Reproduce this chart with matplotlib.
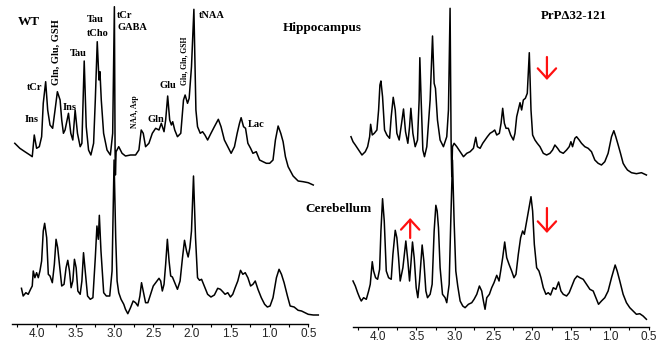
import numpy as np
import matplotlib
matplotlib.use("Agg")
import matplotlib.pyplot as plt
from matplotlib.ticker import MultipleLocator

# ===============================
# Spectra (ppm, intensity in arbitrary units)
# ===============================
wt_hip_ppm = [4.284, 4.219, 4.154, 4.089, 4.059, 4.033, 4.003, 3.968, 3.938, 3.917,
              3.886, 3.860, 3.830, 3.796, 3.765, 3.735, 3.700, 3.679, 3.657, 3.636,
              3.592, 3.562, 3.536, 3.506, 3.476, 3.441, 3.419, 3.389, 3.363, 3.333,
              3.303, 3.268, 3.246, 3.221, 3.199, 3.186, 3.169, 3.139, 3.095, 3.052,
              3.022, 3.000, 2.991, 2.987, 2.978, 2.944, 2.901, 2.857, 2.792, 2.727,
              2.684, 2.654, 2.628, 2.598, 2.555, 2.511, 2.468, 2.425, 2.395, 2.360,
              2.339, 2.313, 2.287, 2.265, 2.248, 2.222, 2.187, 2.144, 2.109, 2.088,
              2.057, 2.036, 2.006, 1.975, 1.949, 1.928, 1.893, 1.863, 1.833, 1.798,
              1.755, 1.711, 1.660, 1.625, 1.582, 1.538, 1.495, 1.452, 1.417, 1.387,
              1.366, 1.335, 1.309, 1.279, 1.244, 1.214, 1.171, 1.128, 1.084, 1.041,
              0.998, 0.955, 0.924, 0.889, 0.855, 0.825, 0.795, 0.760, 0.696, 0.631,
              0.566, 0.501, 0.436]
wt_hip_int = [41.7, 36.7, 33.3, 30, 28.3, 50, 36.7, 38.3, 48.3, 81.7,
              103.3, 75, 60, 56.7, 75, 93.3, 85, 65, 51.7, 55,
              71.7, 51.7, 45, 75, 51.7, 38.3, 41.7, 124, 58.3, 35,
              30, 41.7, 85, 143.3, 105, 113.3, 85, 51.7, 35, 30,
              51.7, 178.3, 35, 10, 33.3, 38.3, 31.7, 29, 30, 30,
              35, 55, 51.7, 38.3, 41.7, 51.7, 56.7, 55, 61.7, 53.3,
              65, 89, 65, 60, 63.3, 55, 48.3, 51.7, 85, 90,
              81.7, 86.7, 118.3, 175.7, 75, 58.3, 51.7, 53.3, 50, 45,
              51.7, 58.3, 65.7, 58.3, 45, 38.3, 31.7, 38.3, 51.7, 61.7,
              67.3, 58.3, 56.7, 41.7, 36.7, 31.7, 33.3, 25, 23.3, 21.7,
              21.7, 25, 45, 59, 51.7, 43.3, 28.3, 18.3, 9, 4,
              3.3, 2.3, 0]

wt_cer_ppm = [4.198, 4.176, 4.141, 4.111, 4.081, 4.059, 4.046, 4.025, 4.003, 3.981,
              3.960, 3.938, 3.917, 3.899, 3.873, 3.852, 3.830, 3.800, 3.774, 3.752,
              3.731, 3.709, 3.679, 3.649, 3.623, 3.601, 3.579, 3.558, 3.536, 3.515,
              3.493, 3.471, 3.441, 3.419, 3.398, 3.372, 3.346, 3.311, 3.277, 3.246,
              3.225, 3.207, 3.194, 3.173, 3.138, 3.104, 3.060, 3.030, 3.004, 2.983,
              2.965, 2.944, 2.914, 2.879, 2.857, 2.827, 2.792, 2.758, 2.727, 2.697,
              2.671, 2.650, 2.628, 2.598, 2.568, 2.533, 2.499, 2.468, 2.425, 2.403,
              2.382, 2.360, 2.339, 2.317, 2.295, 2.274, 2.252, 2.222, 2.187, 2.153,
              2.122, 2.096, 2.070, 2.049, 2.027, 2.006, 1.980, 1.954, 1.928, 1.902,
              1.876, 1.841, 1.798, 1.755, 1.711, 1.668, 1.633, 1.603, 1.573, 1.538,
              1.504, 1.474, 1.443, 1.409, 1.374, 1.344, 1.313, 1.279, 1.244, 1.214,
              1.184, 1.149, 1.106, 1.063, 1.028, 0.993, 0.955, 0.911, 0.877, 0.846,
              0.812, 0.769, 0.734, 0.683, 0.631, 0.587, 0.544, 0.501, 0.436, 0.371]
wt_cer_int = [26.7, 19, 22.3, 20.7, 25.7, 29, 44, 37.3, 42.3, 37.3,
              44, 54, 84, 91.7, 77.3, 40.7, 39, 32.3, 50.7, 75.7,
              67.3, 50.7, 29, 30.7, 47.3, 54.7, 44, 27.3, 34, 55.7,
              47.3, 24, 20.7, 34, 62.3, 40.7, 19, 15.7, 17.3, 57.3,
              89, 75.7, 99.7, 64, 22.3, 19, 19, 44, 155, 77.3,
              34, 22.3, 15.7, 10.7, 5.7, 1.3, 7.3, 14, 12.3, 9,
              19, 32.3, 24, 12.3, 12.3, 20.7, 29, 32.3, 36.7, 34,
              24, 30.7, 50.7, 75.7, 54, 39, 38, 32.3, 25.7, 34,
              57.3, 74.7, 64, 58, 67.3, 84, 139, 77.3, 37.3, 34.7,
              35.7, 29, 20.7, 18, 20, 26.7, 25.7, 23.3, 20.7, 22.3,
              18, 20.7, 27.3, 34, 44.7, 40.7, 42.3, 37.3, 29, 30.7,
              34, 25.7, 17.3, 10.7, 8, 9, 17.3, 37.3, 45.7, 40.7,
              32.3, 19, 9, 8, 4.7, 4, 2.3, 0.7, 0, 0]

prp_hip_ppm = [4.346, 4.320, 4.290, 4.247, 4.204, 4.161, 4.131, 4.105, 4.092, 4.071,
               4.045, 4.011, 3.989, 3.972, 3.959, 3.938, 3.912, 3.882, 3.847, 3.826,
               3.800, 3.774, 3.753, 3.723, 3.692, 3.667, 3.641, 3.611, 3.589, 3.572,
               3.546, 3.516, 3.486, 3.465, 3.456, 3.439, 3.417, 3.396, 3.366, 3.323,
               3.292, 3.271, 3.254, 3.228, 3.194, 3.151, 3.108, 3.086, 3.065, 3.052,
               3.043, 3.034, 3.013, 2.978, 2.935, 2.892, 2.849, 2.806, 2.763, 2.733,
               2.712, 2.677, 2.643, 2.613, 2.583, 2.548, 2.514, 2.488, 2.462, 2.428,
               2.406, 2.385, 2.363, 2.342, 2.312, 2.282, 2.247, 2.226, 2.204, 2.161,
               2.140, 2.118, 2.092, 2.067, 2.041, 2.019, 1.998, 1.968, 1.938, 1.903,
               1.860, 1.817, 1.774, 1.740, 1.710, 1.675, 1.645, 1.602, 1.559, 1.525,
               1.503, 1.482, 1.452, 1.430, 1.396, 1.366, 1.323, 1.280, 1.237, 1.194,
               1.151, 1.108, 1.065, 1.022, 0.978, 0.948, 0.923, 0.892, 0.862, 0.828,
               0.802, 0.772, 0.720, 0.656, 0.591, 0.527]
prp_hip_int = [35.3, 30.3, 27, 22, 17, 20.3, 25.3, 35.3, 47.7, 37,
               38.7, 42, 62, 87, 91, 75.3, 42, 37, 33.7, 55.3,
               74.7, 62, 38.7, 32, 48.7, 63, 40.3, 28.7, 45.3, 63.7,
               38.7, 25.3, 32, 72, 114.3, 72, 22, 15.3, 25.3, 72,
               136, 88.7, 83.7, 52, 32, 25.3, 35.3, 62, 163.7, 32,
               -4.7, 25.3, 28.7, 25.3, 20.3, 15.3, 18.7, 20.3, 23.7, 34.7,
               25.3, 23.7, 28.7, 32, 35.3, 38.7, 40.3, 42, 37, 38.7,
               48.7, 63.7, 48.7, 43.7, 43.7, 37, 32, 38.7, 55.3, 69.3,
               62, 72, 73.7, 78.7, 119.3, 62, 37, 32, 28.7, 25.3,
               18.7, 17, 18.7, 22, 27, 23.7, 20.3, 18.7, 22, 25.3,
               30.3, 25.3, 33.7, 35.3, 32, 28.7, 25.3, 23.7, 20.3, 12,
               8.7, 7, 10.3, 18.7, 35.3, 41.3, 35.3, 27, 18.7, 8.7,
               5.3, 2, -0.7, -1.7, -0.7, -3]

prp_cer_ppm = [4.320, 4.290, 4.260, 4.234, 4.213, 4.183, 4.148, 4.118, 4.097, 4.071,
               4.054, 4.028, 4.002, 3.976, 3.959, 3.938, 3.916, 3.890, 3.860, 3.826,
               3.804, 3.774, 3.753, 3.731, 3.710, 3.675, 3.637, 3.611, 3.589, 3.572,
               3.551, 3.529, 3.503, 3.482, 3.460, 3.426, 3.404, 3.378, 3.357, 3.323,
               3.297, 3.271, 3.249, 3.232, 3.215, 3.194, 3.163, 3.129, 3.108, 3.077,
               3.056, 3.034, 3.013, 2.991, 2.966, 2.935, 2.901, 2.871, 2.828, 2.785,
               2.755, 2.720, 2.686, 2.656, 2.634, 2.613, 2.591, 2.557, 2.527, 2.497,
               2.462, 2.432, 2.411, 2.385, 2.359, 2.333, 2.303, 2.269, 2.239, 2.213,
               2.183, 2.153, 2.127, 2.105, 2.075, 2.045, 2.019, 1.998, 1.976, 1.946,
               1.916, 1.890, 1.860, 1.826, 1.796, 1.766, 1.731, 1.697, 1.662, 1.632,
               1.602, 1.559, 1.525, 1.490, 1.456, 1.422, 1.387, 1.344, 1.301, 1.258,
               1.215, 1.181, 1.146, 1.108, 1.065, 1.022, 0.978, 0.931, 0.905, 0.871,
               0.828, 0.785, 0.742, 0.699, 0.656, 0.613, 0.570, 0.527]
prp_cer_int = [39, 34, 27.3, 22.3, 19, 22.3, 20.7, 29, 35.7, 58.3,
               49, 42.3, 40.7, 50.7, 89, 121.3, 99, 49, 42.3, 40.7,
               65.7, 89.7, 82.3, 62.3, 39, 52.3, 79, 59, 39, 55.7,
               78, 62.3, 32.3, 22.3, 39, 75, 59, 29, 22.3, 25.7,
               35.7, 89, 114.7, 109, 92.3, 52.3, 25.7, 22.3, 17.3, 35.7,
               99, 160, 99, 49, 34, 19, 14, 12.3, 15.7, 17.3,
               20.7, 25.7, 34, 29, 19, 10.7, 22.3, 25.7, 32.3, 37.3,
               44.7, 39, 49, 62.3, 78, 62.3, 55.7, 49, 42.3, 45.7,
               65.7, 82.3, 89, 85.7, 99, 112.3, 123.3, 109, 75.7, 52.3,
               49, 42.3, 32.3, 25.7, 27.3, 25, 32.3, 30.7, 38, 29,
               25.7, 24, 27.3, 34, 40.7, 44, 42.3, 40.7, 35.7, 30.7,
               29, 22.3, 15.7, 19, 22.3, 29, 42.3, 55, 49, 39,
               25.7, 17.3, 12.3, 9, 5.7, 6.3, 4, 0.7]

major_ticks = [4.0, 3.5, 3.0, 2.5, 2.0, 1.5, 1.0, 0.5]

W, H = 665, 342
SERIF = ['Liberation Serif', 'DejaVu Serif']


def fx(px):
    return px / W


def fy(py):
    return 1 - py / H


def make_axes(fig, left, right, axis_y):
    ax = fig.add_axes([fx(left), fy(axis_y), (right - left) / W, axis_y / H])
    ax.set_xlim(4.32, 0.5)
    ax.set_ylim(0, axis_y)
    for s in ['left', 'right', 'top']:
        ax.spines[s].set_visible(False)
    ax.spines['bottom'].set_linewidth(1.0)
    ax.set_yticks([])
    ax.set_xticks(major_ticks)
    ax.set_xticklabels(["%.1f" % t for t in major_ticks],
                       fontfamily='Liberation Sans', fontsize=8.5, color='#222222')
    ax.xaxis.set_minor_locator(MultipleLocator(0.25))
    ax.tick_params(axis='x', which='major', direction='out', length=2.5, width=0.8, pad=0.8)
    ax.tick_params(axis='x', which='minor', direction='out', length=2.0, width=0.8)
    ax.patch.set_alpha(0)
    return ax


fig = plt.figure(figsize=(W / 100, H / 100), dpi=100)

ax_l = make_axes(fig, 12, 308.3, 323.5)
ax_r = make_axes(fig, 353, 648.5, 326.5)

# vertical offsets of each trace (baseline placement)
ax_l.plot(wt_hip_ppm, np.array(wt_hip_int) + 138.5, color='black', lw=1.1, clip_on=False)
ax_l.plot(wt_cer_ppm, np.array(wt_cer_int) + 8.5, color='black', lw=1.1, clip_on=False)
ax_r.plot(prp_hip_ppm, np.array(prp_hip_int) + 154.5, color='black', lw=1.1, clip_on=False)
ax_r.plot(prp_cer_ppm, np.array(prp_cer_int) + 6.5, color='black', lw=1.1, clip_on=False)

# ===============================
# Labels
# ===============================
def lab(px, py, s, size=7.5, rot=0, ha='center'):
    fig.text(fx(px), fy(py), s, fontsize=size, fontweight='bold', family=SERIF,
             rotation=rot, ha=ha, va='center')

lab(29, 22, "WT", 9.5)
lab(35, 87, "tCr")
lab(32, 120, "Ins")
lab(56, 52, "Gln, Glu, GSH", 7.5, 90)
lab(70, 107, "Ins")
lab(78, 53, "Tau")
lab(87, 20, "Tau", ha='left')
lab(87, 33, "tCho", ha='left')
lab(117, 15, "tCr", ha='left')
lab(117, 27, "GABA", ha='left')
lab(135, 112, "NAA, Asp", 5.5, 90)
lab(156, 120, "Gln")
lab(168, 85, "Glu")
lab(184, 61, "Glu, Gln, GSH", 5.5, 90)
lab(212, 15, "tNAA")
lab(256, 125, "Lac")
lab(283, 28, "Hippocampus", 9.5, ha='left')
lab(305, 209, "Cerebellum", 9.5, ha='left')
lab(574, 16, "PrP\u039432-121", 9.3)

# red arrows (right panel, data coords)
arrows = [((1.813, 269.5), (1.813, 246.5)),
          ((1.813, 118.5), (1.813, 93.5)),
          ((3.581, 88.5), (3.581, 108.5))]
for tail, head in arrows:
    ax_r.annotate('', xy=head, xytext=tail,
                  arrowprops=dict(arrowstyle='->,head_length=0.6,head_width=0.55',
                                  color='#ff1010', lw=1.6, mutation_scale=12,
                                  shrinkA=0, shrinkB=0))

fig.savefig("out.png", dpi=100)
